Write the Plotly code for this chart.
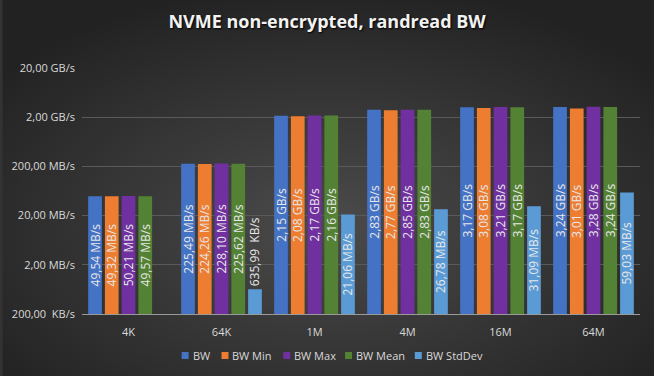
import base64
import math
import plotly.graph_objects as go

categories = ["4K", "64K", "1M", "4M", "16M", "64M"]
# values in MB/s (1 GB/s = 1000 MB/s, 1 MB/s = 1000 KB/s)
bw = [49.54, 225.49, 2150, 2830, 3170, 3240]
bw_min = [49.32, 224.26, 2080, 2770, 3080, 3010]
bw_max = [50.21, 228.10, 2170, 2850, 3210, 3280]
bw_mean = [49.57, 225.62, 2160, 2830, 3170, 3240]
bw_std = [None, 0.63599, 21.06, 26.78, 31.09, 59.03]

series_names = ["BW", "BW Min", "BW Max", "BW Mean", "BW StdDev"]
series_colors = ["#4472C4", "#ED7D31", "#7030A0", "#548235", "#5B9BD5"]

tick_vals = [0.2, 2, 20, 200, 2000, 20000]
tick_text = ["200,00  KB/s", "2,00 MB/s", "20,00 MB/s", "200,00 MB/s", "2,00 GB/s", "20,00 GB/s"]


def fmt(v):
    if v is None:
        return ""
    if v >= 1000:
        return f"{v/1000:.2f}".replace(".", ",") + " GB/s"
    if v >= 1:
        return f"{v:.2f}".replace(".", ",") + " MB/s"
    return f"{v*1000:.2f}".replace(".", ",") + "  KB/s"


W, H = 654, 376
L, R, T, B = 80, 14, 68, 62
pw, ph = W - L - R, H - T - B
FONT = "Open Sans, sans-serif"
LABEL = "#d9d9d9"


def px_x(x):
    return (x - L) / pw


def px_y(y):
    return (T + ph - y) / ph


fig = go.Figure()
all_series = [bw, bw_min, bw_max, bw_mean, bw_std]
for name, vals, col in zip(series_names, all_series, series_colors):
    positions = ["inside" if (v is not None and v >= 5) else "outside" for v in vals]
    tf = dict(family=FONT, size=12, color="#e8e8e8")
    fig.add_trace(go.Bar(
        name=name, x=categories, y=vals,
        marker=dict(color=col, line=dict(width=0)),
        text=[fmt(v) for v in vals],
        textposition=positions,
        insidetextanchor="middle",
        textangle=-90,
        constraintext="none",
        cliponaxis=False,
        textfont=tf, insidetextfont=tf, outsidetextfont=tf,
        hoverinfo="skip",
        showlegend=False,
    ))

# manual legend (compact, like the original)
legend_left = [180, 220, 282, 344, 414]
legend_y = 355.5
shapes = []
annotations = []
for name, col, lx in zip(series_names, series_colors, legend_left):
    shapes.append(dict(type="rect", xref="paper", yref="paper",
                       x0=px_x(lx), x1=px_x(lx + 7), y0=px_y(legend_y + 3.5), y1=px_y(legend_y - 3.5),
                       fillcolor=col, line=dict(width=0)))
    annotations.append(dict(text=name, xref="paper", yref="paper", x=px_x(lx + 9), y=px_y(legend_y),
                            xanchor="left", yanchor="middle", showarrow=False,
                            font=dict(family=FONT, size=11, color=LABEL)))

svg = (f"<svg xmlns='http://www.w3.org/2000/svg' width='{W}' height='{H}'>"
       "<defs><radialGradient id='g' cx='50%' cy='60%' r='65%'>"
       "<stop offset='0' stop-color='#4b4b4b'/><stop offset='1' stop-color='#222222'/>"
       "</radialGradient></defs>"
       f"<rect width='{W}' height='{H}' fill='url(#g)'/></svg>")
src = "data:image/svg+xml;base64," + base64.b64encode(svg.encode()).decode()

fig.update_layout(
    width=W, height=H,
    margin=dict(l=L, r=R, t=T, b=B),
    paper_bgcolor="#333333",
    plot_bgcolor="rgba(0,0,0,0)",
    barmode="group", bargap=0.1, bargroupgap=0.18,
    title=dict(text="<b>NVME non-encrypted, randread BW</b>", x=px_x(326), xref="paper",
               xanchor="center", y=1 - 22 / H, yanchor="middle",
               font=dict(family=FONT, size=18, color="#f2f2f2", shadow="1px 1px 2px #000000")),
    font=dict(family=FONT, size=11, color=LABEL),
    showlegend=False,
    shapes=shapes,
    annotations=annotations,
    images=[dict(source=src, xref="paper", yref="paper", x=-L / pw, y=1 + T / ph,
                 sizex=W / pw, sizey=H / ph, xanchor="left", yanchor="top",
                 sizing="stretch", layer="below")],
)
fig.update_xaxes(showline=True, linecolor="#9a9a9a", linewidth=1, showgrid=False,
                 ticks="", ticklabelstandoff=8, tickfont=dict(family=FONT, size=11, color=LABEL))
fig.update_yaxes(type="log", range=[math.log10(0.2), math.log10(20000)],
                 tickvals=tick_vals, ticktext=tick_text, showgrid=True,
                 gridcolor="#5a5a5a", gridwidth=1, zeroline=False, showline=False,
                 ticks="", ticklabelstandoff=6, tickfont=dict(family=FONT, size=11, color=LABEL))

fig.write_html("out.html", config={"displayModeBar": False},
               post_script="document.body.style.margin='0';document.body.style.background='#333';")
